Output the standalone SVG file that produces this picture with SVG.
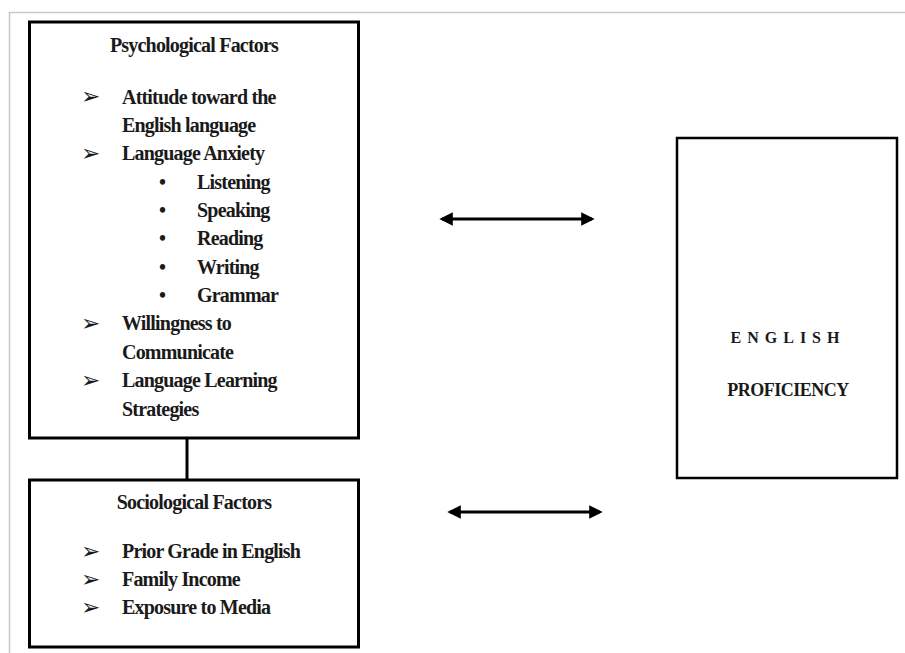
<svg xmlns="http://www.w3.org/2000/svg" width="905" height="653" viewBox="0 0 905 653">
<defs>
<style>
.box{fill:#fff;stroke:#000;stroke-width:3}
.t{font-family:"Liberation Serif","Times New Roman",serif;font-weight:bold;font-size:20px;letter-spacing:-0.8px;fill:#1a1a1a}
.c{text-anchor:middle}
.ar{font-family:"DejaVu Sans",sans-serif;font-size:23px;fill:#1a1a1a}
.bu{font-family:"Liberation Serif",serif;font-weight:bold;font-size:20px;fill:#1a1a1a}
.conn{stroke:#000;stroke-width:3;fill:none}
.frame{stroke:#c8c8c8;stroke-width:1.5;fill:none}
</style>
<marker id="ah" viewBox="0 0 10 10" refX="8" refY="5" markerWidth="4.5" markerHeight="4.5" orient="auto-start-reverse" markerUnits="strokeWidth">
<path d="M0,0 L10,5 L0,10 z" fill="#000"/>
</marker>
</defs>
<rect width="905" height="653" fill="#fff"/>
<path class="frame" d="M9.5,653 V12.5 H905"/>

<g id="psychological">
<rect class="box" x="29.5" y="22" width="329" height="416"/>
<text class="t c" x="194" y="52">Psychological Factors</text>
<text class="ar" x="81" y="104">➢</text>
<text class="t" x="122" y="103.5">Attitude toward the</text>
<text class="t" x="122" y="131.9">English language</text>
<text class="ar" x="81" y="160.7">➢</text>
<text class="t" x="122" y="160.2">Language Anxiety</text>
<text class="bu" x="159" y="188.6">•</text>
<text class="t" x="197" y="188.6">Listening</text>
<text class="bu" x="159" y="216.9">•</text>
<text class="t" x="197" y="216.9">Speaking</text>
<text class="bu" x="159" y="245.3">•</text>
<text class="t" x="197" y="245.3">Reading</text>
<text class="bu" x="159" y="273.7">•</text>
<text class="t" x="197" y="273.7">Writing</text>
<text class="bu" x="159" y="302">•</text>
<text class="t" x="197" y="302">Grammar</text>
<text class="ar" x="81" y="330.9">➢</text>
<text class="t" x="122" y="330.4">Willingness to</text>
<text class="t" x="122" y="358.7">Communicate</text>
<text class="ar" x="81" y="387.6">➢</text>
<text class="t" x="122" y="387.1">Language Learning</text>
<text class="t" x="122" y="415.5">Strategies</text>
</g>

<g id="sociological">
<rect class="box" x="29.5" y="480" width="329" height="167"/>
<text class="t c" x="194" y="508.5">Sociological Factors</text>
<text class="ar" x="81" y="558.5">➢</text>
<text class="t" x="122" y="558">Prior Grade in English</text>
<text class="ar" x="81" y="586.5">➢</text>
<text class="t" x="122" y="586">Family Income</text>
<text class="ar" x="81" y="614.5">➢</text>
<text class="t" x="122" y="614">Exposure to Media</text>
</g>

<g id="proficiency">
<rect class="box" x="677" y="138" width="220" height="340" style="stroke-width:2.5"/>
<text class="t c" x="788" y="343" style="font-size:16px;letter-spacing:6px">ENGLISH</text>
<text class="t c" x="788" y="396" style="font-size:18px;letter-spacing:-0.5px">PROFICIENCY</text>
</g>

<g id="connectors">
<line class="conn" x1="187" y1="438" x2="187" y2="480"/>
<line class="conn" x1="442" y1="219" x2="592" y2="219" marker-start="url(#ah)" marker-end="url(#ah)"/>
<line class="conn" x1="450" y1="512" x2="600" y2="512" marker-start="url(#ah)" marker-end="url(#ah)"/>
</g>
</svg>
